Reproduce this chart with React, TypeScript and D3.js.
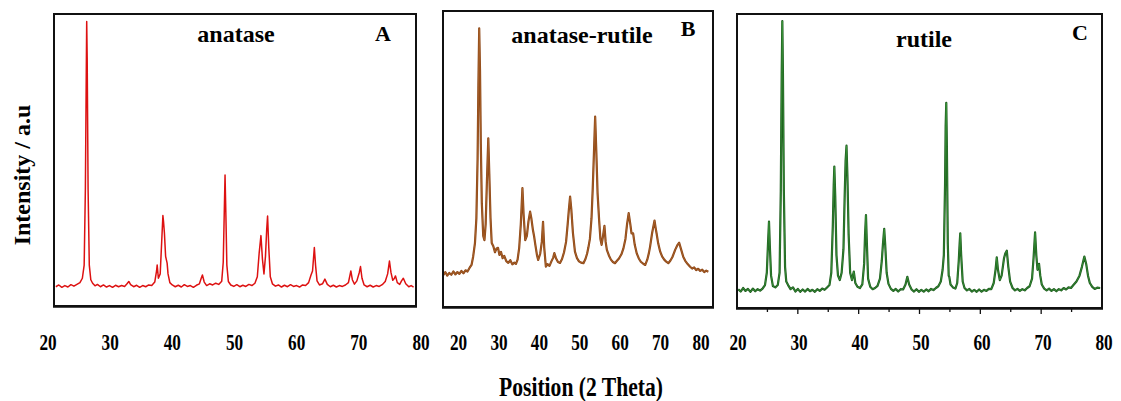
import React from 'react';
import * as d3 from 'd3';

// 2θ / intensity (% of frame height)
const anatase: [number, number][] = [
  [20.3,6.6],[20.8,7.2],[21.3,6.4],[21.8,7.0],[22.3,6.5],[22.8,7.3],[23.3,6.8],[23.8,7.4],[24.3,8.0],[24.7,9.5],[25.0,14],[25.2,40],[25.35,80],[25.42,97.4],[25.5,85],[25.65,40],[25.85,14],[26.1,9],[26.4,7.8],[26.8,6.9],[27.2,7.4],[27.7,6.6],[28.2,7.2],[28.7,6.5],[29.2,7.0],[29.7,6.4],[30.2,7.1],[30.7,6.6],[31.2,7.0],[31.7,6.7],[32.1,7.6],[32.4,8.4],[32.7,7.3],[33.2,6.6],[33.7,7.1],[34.2,6.4],[34.7,7.0],[35.2,6.6],[35.7,7.2],[36.2,7.0],[36.7,8.2],[37.0,12],[37.1,14],[37.3,9.5],[37.6,11],[37.85,22],[38.05,31],[38.15,29],[38.3,25],[38.5,17],[38.75,14.7],[38.9,11],[39.2,8],[39.6,7.2],[40.1,6.6],[40.6,7.1],[41.1,6.5],[41.6,7.3],[42.1,6.7],[42.6,7.0],[43.1,6.4],[43.6,7.1],[44.1,7.6],[44.4,9.5],[44.6,10.6],[44.9,8.2],[45.3,7.0],[45.8,7.6],[46.3,7.2],[46.8,7.8],[47.3,7.4],[47.8,8.5],[48.05,15],[48.2,30],[48.35,44.9],[48.5,30],[48.65,14],[48.9,8.4],[49.3,7.2],[49.8,6.7],[50.3,7.3],[50.8,6.6],[51.3,7.1],[51.8,6.7],[52.3,7.4],[52.8,7.0],[53.3,7.8],[53.7,10],[54.0,18],[54.3,24.1],[54.55,16],[54.8,11],[55.05,17],[55.25,26],[55.4,30.8],[55.6,20],[55.85,10],[56.2,7.6],[56.7,6.8],[57.2,7.2],[57.7,6.5],[58.2,7.1],[58.7,6.6],[59.2,7.3],[59.7,6.7],[60.2,7.0],[60.7,6.5],[61.2,7.2],[61.7,7.0],[62.2,8.0],[62.6,10.6],[62.85,12],[63.0,16],[63.15,20],[63.35,14],[63.6,8.6],[64.0,7.2],[64.5,7.6],[64.9,9.2],[65.3,7.4],[65.8,6.6],[66.3,7.1],[66.8,6.5],[67.3,7.0],[67.8,6.7],[68.3,7.2],[68.8,8.0],[69.05,10.5],[69.2,12],[69.45,9],[69.8,7.5],[70.2,8.6],[70.6,11.5],[70.8,13.5],[71.05,9.5],[71.4,7.2],[71.9,6.6],[72.4,7.1],[72.9,6.5],[73.4,7.0],[73.9,6.7],[74.4,7.3],[74.9,8.4],[75.3,11],[75.6,15.4],[75.85,11.5],[76.15,8.8],[76.4,9.4],[76.6,10.3],[76.9,8.0],[77.3,7.4],[77.6,8.6],[77.9,9.5],[78.3,7.6],[78.8,6.6],[79.2,7.0],[79.6,6.5],
];

const mixed: [number, number][] = [
  [16.2,10.8],[16.7,11.8],[17.2,10.6],[17.7,11.5],[18.2,10.9],[18.7,12.0],[19.2,11.0],[19.7,11.8],[20.2,11.2],[20.7,12.2],[21.2,11.4],[21.7,12.4],[22.2,12.0],[22.7,13.2],[23.2,14.2],[23.6,17],[24.05,21.6],[24.4,30],[24.7,50],[24.9,75],[25.1,94.1],[25.3,80],[25.5,55],[25.75,35],[26.1,24],[26.4,22.6],[26.7,28],[27.0,42],[27.35,57],[27.6,45],[27.9,30],[28.2,21.6],[28.6,20.5],[29.0,18.5],[29.4,19.8],[29.75,20],[30.1,17.6],[30.5,18.6],[30.9,16.5],[31.3,17.3],[31.8,15.5],[32.3,14.9],[32.8,15.8],[33.3,14.4],[33.8,15.0],[34.2,14.6],[34.6,16],[35.0,20],[35.4,28],[35.8,40.2],[36.1,31],[36.5,22.6],[36.9,24],[37.3,29],[37.7,32.2],[38.0,30],[38.4,26],[38.7,23.8],[39.0,21],[39.4,17.5],[39.7,15.9],[40.2,18],[40.6,22],[40.9,28.8],[41.2,20],[41.6,13.6],[42.0,14.5],[42.5,13.9],[43.0,15.5],[43.4,16.6],[43.7,18.2],[44.1,16.5],[44.6,15.2],[45.1,14.9],[45.6,16.2],[46.1,18.5],[46.6,22],[47.0,28],[47.3,33],[47.6,37.3],[47.9,33],[48.3,25],[48.8,18.7],[49.3,16.5],[49.8,15.4],[50.3,15.0],[50.9,14.8],[51.4,16.2],[51.8,18.0],[52.1,19.9],[52.5,23],[52.9,30],[53.2,40],[53.5,52],[53.8,64.3],[54.1,52],[54.4,38.4],[54.8,29],[55.1,23],[55.4,21],[55.75,24],[56.1,27.4],[56.4,22],[56.7,19.3],[57.2,17.4],[57.7,16.0],[58.2,15.2],[58.7,14.8],[59.2,15.6],[59.7,16.4],[60.3,17.8],[60.8,19.8],[61.3,23],[61.7,28],[62.1,31.7],[62.5,28],[62.8,24.9],[63.2,24.9],[63.6,21],[64.1,18.1],[64.6,16.4],[65.1,15.3],[65.7,14.6],[66.2,14.2],[66.7,16],[67.1,18.2],[67.4,20.4],[67.9,25],[68.5,29.2],[68.8,26.5],[69.0,24.9],[69.4,21.5],[69.9,18.7],[70.4,17],[70.9,16],[71.4,15.3],[71.9,14.8],[72.4,15.6],[72.9,16.8],[73.3,18.2],[73.6,19.3],[74.2,21],[74.6,21.7],[75.0,19.8],[75.6,17],[76.1,15.6],[76.7,14.5],[77.3,13.6],[77.8,13.0],[78.3,13.4],[78.8,12.5],[79.3,12.9],[79.8,12.2],[80.3,12.6],[80.8,11.8],[81.3,12.3],[81.8,11.9],
];

const rutile: [number, number][] = [
  [20.2,6.4],[20.6,5.6],[21.0,6.8],[21.4,5.8],[21.8,6.5],[22.2,5.5],[22.6,6.6],[23.0,5.7],[23.4,6.4],[23.8,5.9],[24.2,6.6],[24.6,7.8],[24.9,12],[25.1,22],[25.26,29.4],[25.4,21],[25.6,11],[25.9,7.5],[26.3,7.0],[26.7,7.8],[27.0,12],[27.2,40],[27.35,80],[27.45,97.6],[27.55,80],[27.7,40],[27.9,14],[28.1,9],[28.4,7.8],[28.8,6.4],[29.2,7.0],[29.6,5.6],[30.0,6.5],[30.4,5.5],[30.8,6.3],[31.2,5.6],[31.6,6.5],[32.0,5.7],[32.4,6.2],[32.8,5.5],[33.2,6.4],[33.6,5.8],[34.0,6.6],[34.4,6.2],[34.8,7.0],[35.2,7.8],[35.5,12],[35.75,28],[35.9,42],[36.0,48.1],[36.15,38],[36.35,18],[36.6,11],[36.9,9.5],[37.2,12],[37.5,20],[37.7,38],[37.85,50],[38.0,55.2],[38.15,45],[38.35,25],[38.6,12],[38.9,9.5],[39.2,12.4],[39.45,8.5],[39.8,7.2],[40.2,6.8],[40.6,8.0],[40.9,15],[41.05,25],[41.2,31.6],[41.35,22],[41.55,10],[41.9,7.2],[42.3,6.4],[42.7,6.8],[43.1,7.5],[43.5,10],[43.8,16],[44.0,22],[44.2,26.9],[44.35,22],[44.6,12],[44.9,8.2],[45.3,6.5],[45.7,5.8],[46.1,6.5],[46.5,5.6],[46.9,6.4],[47.3,6.3],[47.7,8.0],[48.0,10.6],[48.3,8.0],[48.7,6.3],[49.1,5.6],[49.5,6.4],[49.9,5.5],[50.3,6.2],[50.7,5.6],[51.1,6.3],[51.5,5.7],[51.9,6.5],[52.3,6.1],[52.7,6.8],[53.1,7.4],[53.5,9],[53.8,13],[54.0,18],[54.2,42],[54.3,62],[54.4,69.8],[54.5,55],[54.65,22],[54.8,11],[54.9,10.6],[55.1,8],[55.5,7.0],[55.9,6.6],[56.2,8.5],[56.45,16],[56.6,22],[56.7,25.4],[56.85,18],[57.1,9],[57.4,6.8],[57.8,6.0],[58.2,6.5],[58.6,5.6],[59.0,6.2],[59.4,5.5],[59.8,6.3],[60.2,5.6],[60.6,6.2],[61.0,5.8],[61.4,6.5],[61.8,6.4],[62.2,8.5],[62.5,13],[62.7,17.2],[62.9,13],[63.2,9.5],[63.5,11],[63.7,14],[63.9,17],[64.1,18.5],[64.35,19.5],[64.6,14],[64.9,9],[65.3,6.8],[65.7,6.0],[66.1,6.5],[66.5,5.8],[66.9,6.4],[67.3,6.0],[67.7,6.8],[68.1,7.4],[68.5,10],[68.75,17],[69.0,25.7],[69.2,18],[69.4,13],[69.65,15],[69.85,11],[70.1,8.0],[70.5,6.6],[70.9,6.0],[71.3,6.6],[71.7,5.8],[72.1,6.4],[72.5,5.7],[72.9,6.4],[73.3,6.0],[73.7,6.8],[74.1,6.3],[74.5,7.0],[74.9,6.8],[75.3,7.8],[75.8,9],[76.3,11],[76.7,14],[77.1,17.5],[77.4,15],[77.7,11],[78.0,8.5],[78.4,7.2],[78.8,6.5],[79.2,6.9],[79.7,6.8],
];

const tickValues = [20, 30, 40, 50, 60, 70, 80];
const minorTicks = d3.range(25, 80, 5);

const panels = [
  { key: 'A', title: 'anatase', data: anatase, color: '#dd1111', core: null, width: 1.5,
    frame: [54, 14, 416, 306], xr: [54, 416], labels: [48, 421], titleX: 236, titleY: 42, letterX: 383, letterY: 41, ticks: false },
  { key: 'B', title: 'anatase-rutile', data: mixed, color: '#8c4515', core: '#b06a30', width: 2.2,
    frame: [443, 11, 713, 307], xr: [458.6, 701], labels: [458.6, 701], titleX: 582, titleY: 43, letterX: 688, letterY: 36, ticks: false },
  { key: 'C', title: 'rutile', data: rutile, color: '#1d5a1d', core: '#3c9c3c', width: 2.2,
    frame: [737, 14, 1102, 308], xr: [737, 1102], labels: [738, 1104], titleX: 924, titleY: 47, letterX: 1080, letterY: 40, ticks: true },
];

const serif = '"Liberation Serif", "Times New Roman", serif';

export default function App() {
  return (
    <svg width={1121} height={401} style={{ position: 'absolute', left: 0, top: 0, background: '#fff' }}
      fontFamily={serif} fontWeight="bold">
      {panels.map(p => {
        const [x0, y0, x1, y1] = p.frame;
        const x = d3.scaleLinear().domain([20, 80]).range(p.xr);
        const y = d3.scaleLinear().domain([0, 100]).range([y1, y0]);
        const lx = d3.scaleLinear().domain([20, 80]).range(p.labels);
        const line = d3.line<[number, number]>().x(d => x(d[0])).y(d => y(d[1]));
        const path = line(p.data) || '';
        return (
          <g key={p.key}>
            <path d={path} fill="none" stroke={p.color} strokeWidth={p.width} strokeLinejoin="round" />
            {p.core && <path d={path} fill="none" stroke={p.core} strokeWidth={0.7} strokeLinejoin="round" />}
            <rect x={x0} y={y0} width={x1 - x0} height={y1 - y0} fill="none" stroke="#111" strokeWidth={2} />
            <line x1={x0 - 1} x2={x1 + 1} y1={y1 + 1} y2={y1 + 1} stroke="#111" strokeWidth={1.5} />
            {p.ticks && minorTicks.map(t => (
              <line key={t} x1={x(t)} x2={x(t)} y1={y1} y2={y1 + (t % 10 === 0 ? 6 : 4)} stroke="#111" strokeWidth={1.3} />
            ))}
            <text x={p.titleX} y={p.titleY} textAnchor="middle" fontSize={24}>{p.title}</text>
            <text x={p.letterX} y={p.letterY} textAnchor="middle" fontSize={22}>{p.key}</text>
            {tickValues.map(t => (
              <text key={t} transform={`translate(${lx(t)},350) scale(0.82,1.12)`} textAnchor="middle" fontSize={21}>{t}</text>
            ))}
          </g>
        );
      })}
      <text transform="translate(30,175) rotate(-90)" textAnchor="middle" fontSize={24}>Intensity / a.u</text>
      <text transform="translate(581,396) scale(0.9,1.1)" textAnchor="middle" fontSize={24}>Position (2 Theta)</text>
    </svg>
  );
}
